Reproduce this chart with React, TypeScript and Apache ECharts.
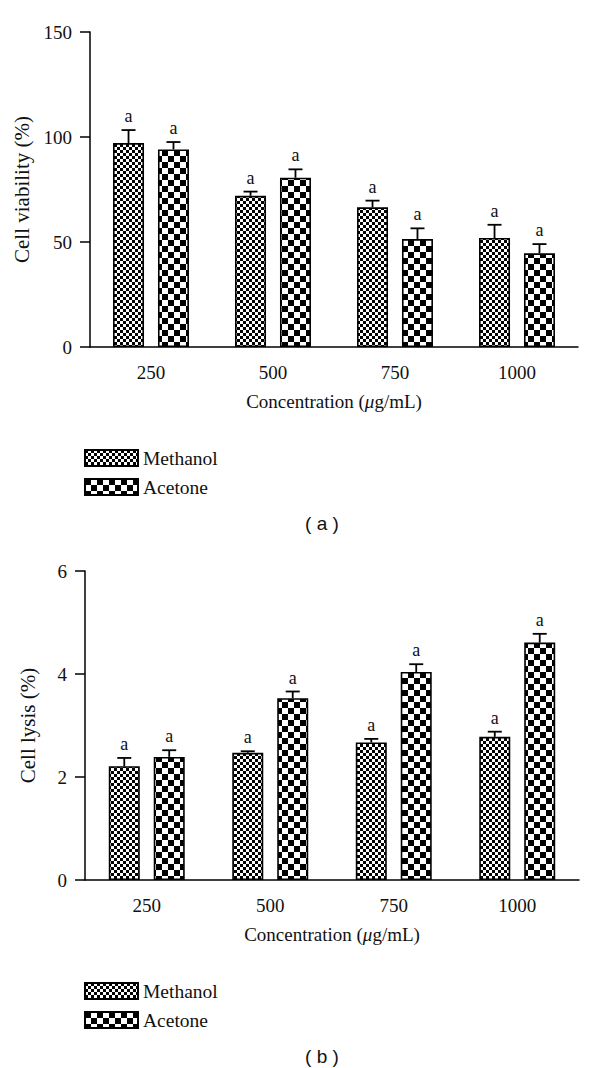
import React, { useEffect, useRef } from "react";
import * as echarts from "echarts";

const categories = ["250", "500", "750", "1000"];
const seriesNames = ["Methanol", "Acetone"];

const viabilityMethanol = [97.1, 72.0, 66.5, 51.9];
const viabilityMethanolErr = [6.2, 2.0, 3.2, 6.3];
const viabilityAcetone = [94.1, 80.6, 51.4, 44.6];
const viabilityAcetoneErr = [3.5, 4.0, 5.1, 4.4];

const lysisMethanol = [2.21, 2.47, 2.67, 2.78];
const lysisMethanolErr = [0.16, 0.03, 0.07, 0.1];
const lysisAcetone = [2.39, 3.53, 4.04, 4.61];
const lysisAcetoneErr = [0.13, 0.13, 0.15, 0.17];

const viabilityLetters = ["a", "a", "a", "a"];
const lysisLetters = ["a", "a", "a", "a"];

const SERIF = "'Liberation Serif', 'DejaVu Serif', serif";
const SANS = "'Liberation Sans', Arial, sans-serif";
const INK = "#111";

const BAR_W = 31;
const BAR_GAP = 0.45;
const OFFSET = BAR_W / 2 + (BAR_W * BAR_GAP) / 2;

function checker(cell: number) {
  const c = document.createElement("canvas");
  c.width = cell * 2;
  c.height = cell * 2;
  const ctx = c.getContext("2d")!;
  ctx.fillStyle = "#fff";
  ctx.fillRect(0, 0, cell * 2, cell * 2);
  ctx.fillStyle = "#000";
  ctx.fillRect(0, 0, cell, cell);
  ctx.fillRect(cell, cell, cell, cell);
  return { image: c, repeat: "repeat", imageWidth: cell * 2, imageHeight: cell * 2 } as any;
}

export default function App() {
  const ref = useRef<HTMLDivElement>(null);
  useEffect(() => {
    const chart = echarts.init(ref.current!, null, { renderer: "svg" });
    const fine = checker(3);
    const coarse = checker(6);

    const errorSeries = (
      axisIndex: number,
      values: number[],
      errs: number[],
      letters: string[],
      offset: number
    ) => ({
      type: "custom",
      xAxisIndex: axisIndex,
      yAxisIndex: axisIndex,
      silent: true,
      z: 5,
      encode: { x: 0, y: 1 },
      data: values.map((v, i) => [i, v, errs[i]]),
      renderItem: (p: any, api: any) => {
        const i = api.value(0);
        const v = api.value(1);
        const e = api.value(2);
        const base = api.coord([i, v]);
        const top = api.coord([i, v + e]);
        const x = base[0] + offset;
        return {
          type: "group",
          children: [
            {
              type: "line",
              shape: { x1: x, y1: base[1], x2: x, y2: top[1] },
              style: { stroke: "#000", lineWidth: 1.8 },
            },
            {
              type: "line",
              shape: { x1: x - 7, y1: top[1], x2: x + 7, y2: top[1] },
              style: { stroke: "#000", lineWidth: 1.8 },
            },
            {
              type: "text",
              x: x,
              y: top[1] - 5,
              style: {
                text: letters[p.dataIndex],
                fontFamily: SERIF,
                fontSize: 18,
                fill: INK,
                align: "center",
                verticalAlign: "bottom",
              },
            },
          ],
        };
      },
    });

    const barSeries = (axisIndex: number, name: string, data: number[], pattern: any) => ({
      type: "bar",
      name,
      xAxisIndex: axisIndex,
      yAxisIndex: axisIndex,
      data,
      barWidth: BAR_W,
      barGap: `${BAR_GAP * 100}%`,
      itemStyle: { color: pattern, borderColor: "#000", borderWidth: 1.6 },
      silent: true,
    });

    const xAxis = (gridIndex: number) => ({
      type: "category",
      gridIndex,
      data: categories,
      axisLine: { lineStyle: { color: "#000", width: 1.5 } },
      axisTick: { alignWithLabel: true, length: 8, lineStyle: { color: "#000", width: 1.5 } },
      axisLabel: { margin: 16, fontFamily: SERIF, fontSize: 19, color: INK },
      name: "Concentration ({i|μ}g/mL)",
      nameLocation: "middle",
      nameGap: 45,
      nameTextStyle: {
        fontFamily: SERIF,
        fontSize: 19,
        color: INK,
        verticalAlign: "top",
        rich: { i: { fontFamily: SERIF, fontSize: 19, fontStyle: "italic", color: INK } },
      },
    });

    const yAxis = (gridIndex: number, max: number, interval: number, name: string, gap: number) => ({
      type: "value",
      gridIndex,
      min: 0,
      max,
      interval,
      splitLine: { show: false },
      axisLine: { show: true, lineStyle: { color: "#000", width: 1.5 } },
      axisTick: { show: true, length: 10, lineStyle: { color: "#000", width: 1.5 } },
      axisLabel: { margin: 18, fontFamily: SERIF, fontSize: 19, color: INK },
      name,
      nameLocation: "middle",
      nameGap: gap,
      nameTextStyle: { fontFamily: SERIF, fontSize: 21, color: INK },
    });

    const legend = (top: number) => ({
      orient: "vertical",
      left: 79,
      top,
      itemWidth: 53,
      itemHeight: 16,
      itemGap: 9,
      icon: "rect",
      selectedMode: false,
      data: seriesNames,
      textStyle: { fontFamily: SERIF, fontSize: 19.5, color: INK },
    });

    chart.setOption({
      animation: false,
      backgroundColor: "#fff",
      grid: [
        { left: 90, top: 32, width: 488, height: 315 },
        { left: 85, top: 571, width: 494, height: 309 },
      ],
      xAxis: [xAxis(0), xAxis(1)],
      yAxis: [
        yAxis(0, 150, 50, "Cell viability (%)", 52),
        yAxis(1, 6, 2, "Cell lysis (%)", 47),
      ],
      legend: [legend(443), legend(976)],
      series: [
        barSeries(0, seriesNames[0], viabilityMethanol, fine),
        barSeries(0, seriesNames[1], viabilityAcetone, coarse),
        barSeries(1, seriesNames[0], lysisMethanol, fine),
        barSeries(1, seriesNames[1], lysisAcetone, coarse),
        errorSeries(0, viabilityMethanol, viabilityMethanolErr, viabilityLetters, -OFFSET),
        errorSeries(0, viabilityAcetone, viabilityAcetoneErr, viabilityLetters, OFFSET),
        errorSeries(1, lysisMethanol, lysisMethanolErr, lysisLetters, -OFFSET),
        errorSeries(1, lysisAcetone, lysisAcetoneErr, lysisLetters, OFFSET),
      ],
      graphic: [
        {
          type: "text",
          x: 322,
          y: 523,
          style: { text: "( a )", fontFamily: SANS, fontSize: 19, fill: INK, align: "center", verticalAlign: "middle" },
        },
        {
          type: "text",
          x: 322,
          y: 1056,
          style: { text: "( b )", fontFamily: SANS, fontSize: 19, fill: INK, align: "center", verticalAlign: "middle" },
        },
      ],
    });
    return () => chart.dispose();
  }, []);
  return (
    <div
      ref={ref}
      style={{ position: "absolute", left: 0, top: 0, width: 600, height: 1068, background: "#fff" }}
    />
  );
}
